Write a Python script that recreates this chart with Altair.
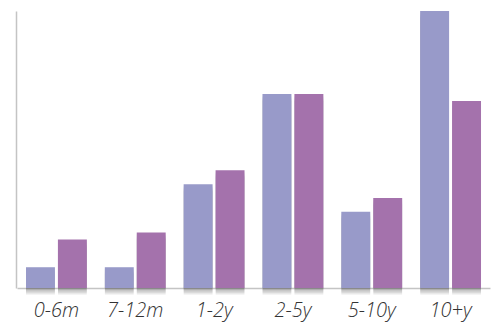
import altair as alt
import pandas as pd

# Age groups and the two series drawn side by side in each group
categories = ["0-6m", "7-12m", "1-2y", "2-5y", "5-10y", "10+y"]
series_a = [3, 3, 15, 28, 11, 40]
series_b = [7, 8, 17, 28, 13, 27]
series_names = ["A", "B"]
colors = ["#989AC9", "#A472AC"]

rows = []
for cat, a, b in zip(categories, series_a, series_b):
    rows.append({"group": cat, "series": series_names[0], "value": a})
    rows.append({"group": cat, "series": series_names[1], "value": b})
df = pd.DataFrame(rows)

x_enc = alt.X(
    "group:N",
    sort=categories,
    scale=alt.Scale(paddingInner=0, paddingOuter=0),
    axis=alt.Axis(
        title=None,
        labelAngle=0,
        ticks=False,
        labelPadding=12,
        labelFont="Open Sans",
        labelFontStyle="italic",
        labelFontWeight=300,
        labelFontSize=20,
        labelColor="#333333",
        domainColor="#c4c4c4",
        domainWidth=1.5,
        grid=False,
    ),
)
x_off = alt.XOffset(
    "series:N",
    sort=series_names,
    scale=alt.Scale(paddingInner=0.09375, paddingOuter=0.28125),
)
y_enc = alt.Y(
    "value:Q",
    scale=alt.Scale(domain=[0, 40], nice=False),
    axis=alt.Axis(
        title=None,
        labels=False,
        ticks=False,
        grid=False,
        offset=1,
        domainColor="#c4c4c4",
        domainWidth=1.5,
    ),
)

# soft drop shadow built from a few offset translucent copies of the bars
shadow_layers = []
for k in range(2, 11):
    shadow_layers.append(
        alt.Chart(df)
        .mark_bar(color="#000000", opacity=0.035, xOffset=k, yOffset=k * 0.7)
        .encode(x=x_enc, xOffset=x_off, y=y_enc)
    )

bars = (
    alt.Chart(df)
    .mark_bar()
    .encode(
        x=x_enc,
        xOffset=x_off,
        y=y_enc,
        color=alt.Color(
            "series:N",
            sort=series_names,
            scale=alt.Scale(domain=series_names, range=colors),
            legend=None,
        ),
    )
)

chart = (
    alt.layer(*shadow_layers, bars)
    .properties(
        width=473,
        height=277,
        autosize=alt.AutoSizeParams(type="none"),
        padding={"left": 17, "top": 11, "right": 5, "bottom": 34},
        background="#ffffff",
    )
    .configure_view(stroke=None)
)

chart.save("out.html", embed_options={"renderer": "svg", "actions": False})
